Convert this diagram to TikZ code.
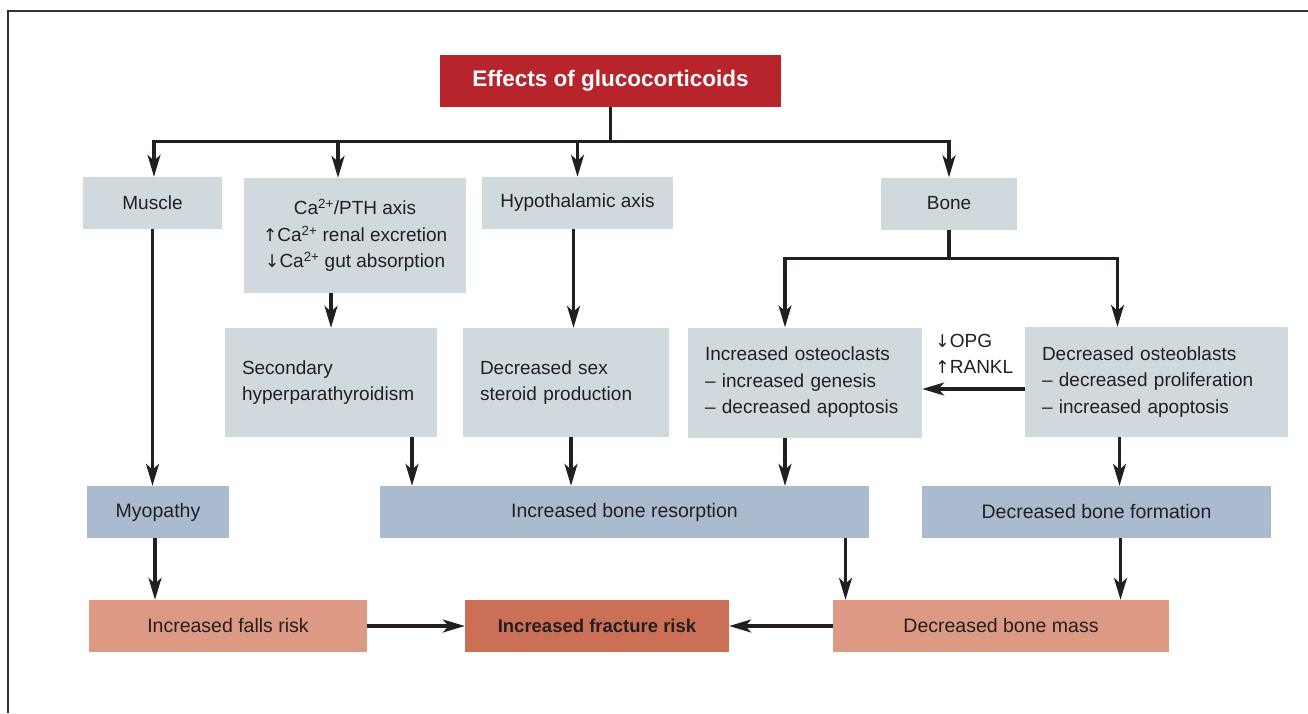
\documentclass[tikz,border=0pt]{standalone}
\usepackage{fontspec}
\setmainfont{Liberation Sans}
\newfontfamily\arrowfont{DejaVu Sans}[Scale=0.92]
\newcommand{\upar}{{\arrowfont ↑}}
\newcommand{\dnar}{{\arrowfont ↓}}
\usetikzlibrary{arrows.meta,calc}
\definecolor{titlered}{HTML}{B7242B}
\definecolor{lightbox}{HTML}{D0D9DE}
\definecolor{bluebox}{HTML}{AABBCF}
\definecolor{salmon}{HTML}{DC9984}
\definecolor{fracbox}{HTML}{CC6F57}
\definecolor{ink}{HTML}{231F20}
\definecolor{framecol}{HTML}{333333}
\begin{document}
\begin{tikzpicture}[x=1pt,y=-1pt,
  box/.style={inner sep=0pt, text=ink, font=\fontsize{19}{26.5}\selectfont, align=center},
  lbox/.style={box, inner xsep=17pt, align=left},
  upper/.style={box, fill=lightbox},
  lower/.style={box, fill=bluebox, font=\fontsize{19.5}{26}\selectfont},
  risk/.style={box, fill=salmon, font=\fontsize{19.5}{26}\selectfont},
  arr/.style={draw=ink, line width=3.2pt, -{Stealth[length=22pt,width=13pt,inset=6pt]}}
]
\useasboundingbox (0,0) rectangle (1308,713);
\fill[white] (0,0) rectangle (1308,713);
\draw[framecol, line width=1.2pt] (8,713) -- (8,11) -- (1308,11);

% top
\node[box, fill=titlered, text=white, font=\fontsize{22.5}{26}\selectfont\bfseries,
      minimum width=341pt, minimum height=52pt] (title) at (610.5,81) {Effects of glucocorticoids};

% first row
\node[upper, minimum width=139pt, minimum height=52pt] (muscle) at (152.5,203) {Muscle};
\node[upper, minimum width=222pt, minimum height=115pt] (capth) at (355,235.5)
  {Ca\textsuperscript{2+}/PTH axis\\\upar Ca\textsuperscript{2+} renal excretion\\\dnar Ca\textsuperscript{2+} gut absorption};
\node[upper, minimum width=191pt, minimum height=52pt] (hypo) at (577.5,203) {Hypothalamic axis};
\node[upper, minimum width=136pt, minimum height=52pt] (bone) at (949,203.5) {Bone};

% second row
\node[upper, lbox, text width=178pt, minimum height=109pt] (second) at (331,382.5)
  {Secondary\\hyperparathyroidism};
\node[upper, lbox, text width=172pt, minimum height=109pt] (sex) at (566,382.5)
  {Decreased sex\\steroid production};
\node[upper, lbox, text width=200pt, minimum height=110pt] (oc) at (805,382.5)
  {Increased osteoclasts\\– increased genesis\\– decreased apoptosis};
\node[upper, lbox, text width=229pt, minimum height=110pt] (ob) at (1156.5,382)
  {Decreased osteoblasts\\– decreased proliferation\\– increased apoptosis};
\node[box, anchor=west, align=left] (opg) at (935,354) {\dnar OPG\\\upar RANKL};

% third row
\node[lower, minimum width=142pt, minimum height=52pt] (myo) at (158,512) {Myopathy};
\node[lower, minimum width=489pt, minimum height=52pt] (res) at (624.5,512) {Increased bone resorption};
\node[lower, minimum width=349pt, minimum height=52pt] (form) at (1096.5,512) {Decreased bone formation};

% bottom row
\node[risk, minimum width=278pt, minimum height=52pt] (falls) at (228,626) {Increased falls risk};
\node[risk, fill=fracbox, font=\fontsize{18.5}{24}\selectfont\bfseries,
      minimum width=264pt, minimum height=52pt] (frac) at (597,626) {Increased fracture risk};
\node[risk, minimum width=336pt, minimum height=52pt] (mass) at (1001,626) {Decreased bone mass};

% connectors from title
\draw[arr] (title.south) -- ++(0,34) -| ([xshift=1.5pt]muscle.north);
\draw[arr] (title.south) -- ++(0,34) -| ([xshift=-17pt]capth.north);
\draw[arr] (title.south) -- ++(0,34) -| (hypo.north);
\draw[arr] (title.south) -- ++(0,34) -| (bone.north);

% first row down
\draw[arr] (muscle.south) -- (muscle.south |- myo.north);
\draw[arr] (second.north |- capth.south) -- (second.north);
\draw[arr] ([xshift=-4pt]hypo.south) -- ([xshift=-4pt]hypo.south |- sex.north);
\draw[arr] (bone.south) -- ++(0,28.5) -| ([xshift=-20pt]oc.north);
\draw[arr] (bone.south) -- ++(0,28.5) -| ([xshift=-39pt]ob.north);

% osteoblasts to osteoclasts
\draw[arr] ([yshift=-7pt]ob.west) -- ([yshift=-7pt]ob.west -| oc.east);

% second row down
\draw[arr] ([xshift=81pt]second.south) -- ([xshift=81pt]second.south |- res.north);
\draw[arr] ([xshift=5pt]sex.south) -- ([xshift=5pt]sex.south |- res.north);
\draw[arr] ([xshift=-20pt]oc.south) -- ([xshift=-20pt]oc.south |- res.north);
\draw[arr] ([xshift=-37pt]ob.south) -- ([xshift=-37pt]ob.south |- form.north);

% third row down
\draw[arr] ([xshift=-3pt]myo.south) -- ([xshift=-3pt]myo.south |- falls.north);
\draw[arr] ([xshift=221pt]res.south) -- ([xshift=221pt]res.south |- mass.north);
\draw[arr] ([xshift=24pt]form.south) -- ([xshift=24pt]form.south |- mass.north);

% bottom row
\draw[arr] (falls.east) -- (frac.west);
\draw[arr] (mass.west) -- (frac.east);
\end{tikzpicture}
\end{document}
